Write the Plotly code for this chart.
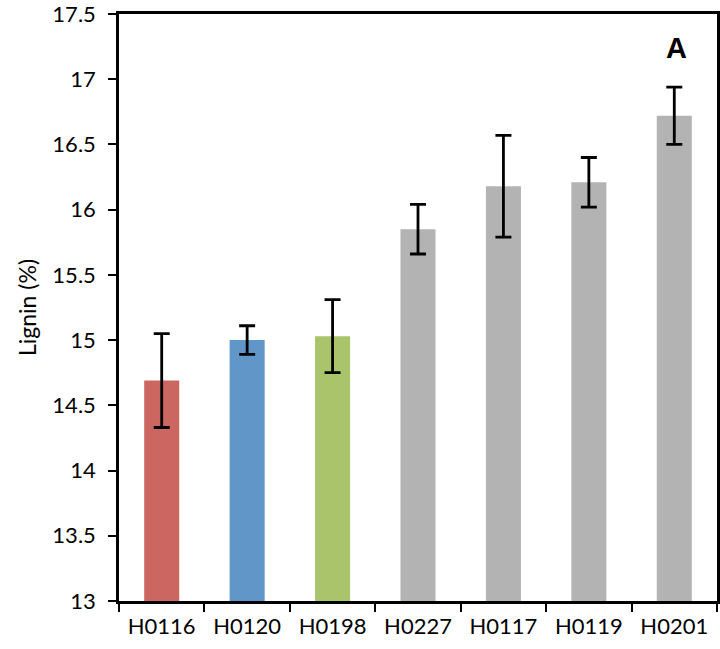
import plotly.graph_objects as go

categories = ["H0116", "H0120", "H0198", "H0227", "H0117", "H0119", "H0201"]
lignin = [14.69, 15.00, 15.03, 15.85, 16.18, 16.21, 16.72]
errors = [0.36, 0.11, 0.28, 0.19, 0.39, 0.19, 0.22]
colors = ["#CC6660", "#6096C8", "#A9C46A", "#B3B3B3", "#B3B3B3", "#B3B3B3", "#B3B3B3"]
y_ticks = [13, 13.5, 14, 14.5, 15, 15.5, 16, 16.5, 17, 17.5]
BASE = 13

fig = go.Figure(go.Bar(
    x=categories, y=[v - BASE for v in lignin], base=BASE,
    marker=dict(color=colors, line=dict(width=0)),
    error_y=dict(type="data", array=errors, color="black", thickness=2.8, width=8),
))

fig.update_layout(
    width=720, height=649,
    margin=dict(l=119, r=3, t=14, b=48, autoexpand=False),
    plot_bgcolor="white", paper_bgcolor="white",
    bargap=0.59, showlegend=False,
    font=dict(family="Lato, sans-serif", color="black"),
    annotations=[dict(text="<b>A</b>", x=0.933, y=0.942, xref="paper", yref="paper",
                      xanchor="center", yanchor="middle",
                      showarrow=False, font=dict(size=29, family="Liberation Sans, Arial"))],
)
fig.update_xaxes(
    type="category", tickson="boundaries", ticks="outside", ticklen=8, tickwidth=2,
    tickcolor="black", showline=True, linecolor="black", linewidth=2.5, mirror=True,
    tickfont=dict(size=22), showgrid=False, ticklabelstandoff=4, automargin=False,
)
fig.update_yaxes(
    range=[13, 17.5], tickvals=y_ticks, ticktext=[f"{t:g}" for t in y_ticks],
    ticks="outside", ticklen=8, tickwidth=2, tickcolor="black",
    showline=True, linecolor="black", linewidth=2.5, mirror=True, showgrid=False,
    tickfont=dict(size=22), ticklabelstandoff=8, ticklabeloverflow="allow",
    title=dict(text="Lignin (%)", font=dict(size=23), standoff=10),
    zeroline=False, automargin=False,
)
fig.write_html("out.html", config={"displayModeBar": False},
               post_script="document.body.style.margin='0';")
